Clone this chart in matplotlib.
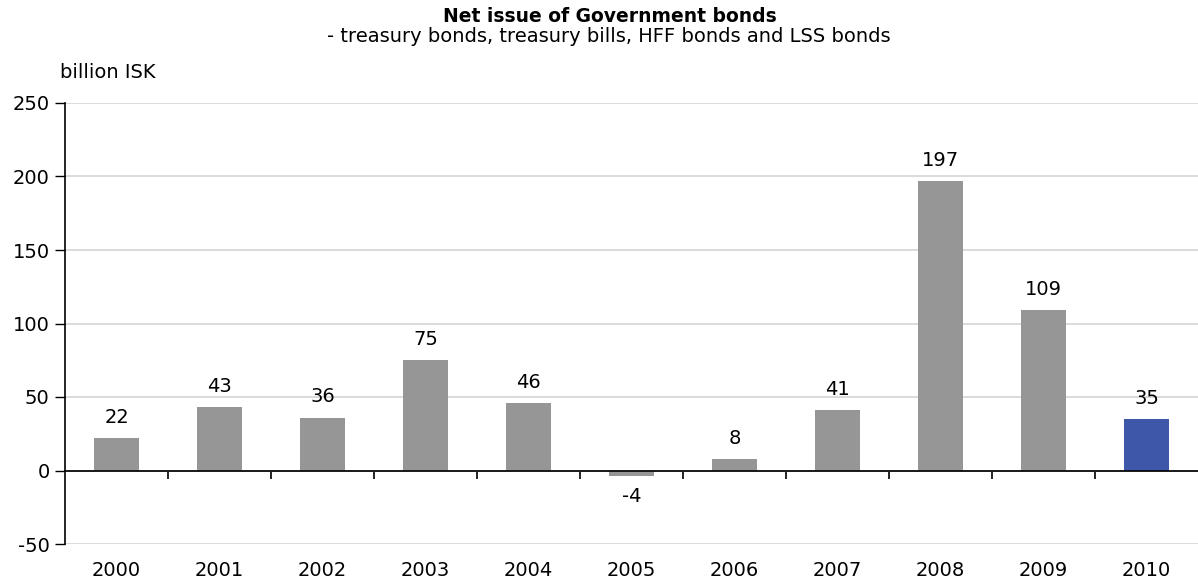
import matplotlib
matplotlib.use("Agg")
import matplotlib.pyplot as plt
import numpy as np

# Net issue of Government bonds, billion ISK
years = ["2000", "2001", "2002", "2003", "2004", "2005",
         "2006", "2007", "2008", "2009", "2010"]
net_issue = [22, 43, 36, 75, 46, -4, 8, 41, 197, 109, 35]
bar_colors = ["#969696"] * 10 + ["#3f57a8"]

y_ticks = [-50, 0, 50, 100, 150, 200, 250]

plt.rcParams["font.family"] = "DejaVu Sans"

fig = plt.figure(figsize=(11.98, 5.83), dpi=100)
ax = fig.add_axes([65 / 1198, 1 - 544 / 583, 1 - 65 / 1198, (544 - 103) / 583])

x = np.arange(len(years))
ax.bar(x, net_issue, width=0.43, color=bar_colors, zorder=2)

for xi, v in zip(x, net_issue):
    if v >= 0:
        ax.annotate(f"{v}", (xi, v), xytext=(0, 8), textcoords="offset points",
                    ha="center", va="bottom", fontsize=14)
    else:
        ax.annotate(f"{v}", (xi, v), xytext=(0, -8), textcoords="offset points",
                    ha="center", va="top", fontsize=14)

ax.set_xlim(-0.5, len(years) - 0.5)
ax.set_ylim(-50, 250)
ax.set_yticks(y_ticks)
ax.set_yticklabels([str(t) for t in y_ticks])
ax.yaxis.grid(True, color="#d4d4d4", linewidth=1.2, zorder=0)
ax.set_axisbelow(True)

ax.set_xticks(x)
ax.set_xticklabels(years)
ax.tick_params(axis="x", length=0, pad=12, labelsize=14)
ax.tick_params(axis="y", direction="out", length=7, width=1, pad=4, labelsize=14)

for side in ["top", "right", "bottom"]:
    ax.spines[side].set_visible(False)
ax.spines["left"].set_color("black")
ax.spines["left"].set_linewidth(1.2)

# Zero line with category-boundary ticks
ax.axhline(0, color="black", linewidth=1.2, zorder=3)
zero_frac = (0 - (-50)) / (250 - (-50))
zax = ax.secondary_xaxis(zero_frac)
zax.set_xticks(np.arange(0.5, len(years) - 1, 1.0))
zax.set_xticklabels([])
zax.tick_params(direction="out", length=6, width=1.2, color="black")
zax.spines["bottom"].set_color("black")
zax.spines["bottom"].set_linewidth(1.2)

fig.text(610 / 1198, 1 - 16 / 583, "Net issue of Government bonds",
         ha="center", va="center", fontsize=13.5, fontweight="bold")
fig.text(609 / 1198, 1 - 37 / 583,
         "- treasury bonds, treasury bills, HFF bonds and LSS bonds",
         ha="center", va="center", fontsize=14)
fig.text(60 / 1198, 1 - 72 / 583, "billion ISK", ha="left", va="center", fontsize=14)

fig.savefig("out.png", dpi=100)
